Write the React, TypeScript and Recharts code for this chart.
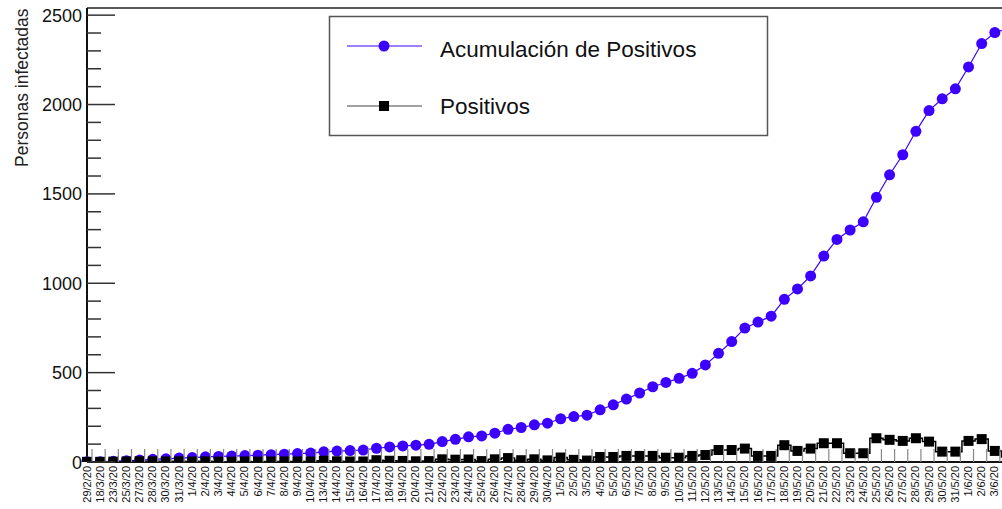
import React from 'react';
import { ComposedChart, Line, XAxis, YAxis, ReferenceLine } from 'recharts';

const fechas = [
  '29/2/20', '18/3/20', '23/3/20', '25/3/20', '27/3/20', '28/3/20', '30/3/20', '31/3/20',
  '1/4/20', '2/4/20', '3/4/20', '4/4/20', '5/4/20', '6/4/20', '7/4/20', '8/4/20', '9/4/20',
  '10/4/20', '13/4/20', '14/4/20', '15/4/20', '16/4/20', '17/4/20', '18/4/20', '19/4/20',
  '20/4/20', '21/4/20', '22/4/20', '23/4/20', '24/4/20', '25/4/20', '26/4/20', '27/4/20',
  '28/4/20', '29/4/20', '30/4/20', '1/5/20', '2/5/20', '3/5/20', '4/5/20', '5/5/20', '6/5/20',
  '7/5/20', '8/5/20', '9/5/20', '10/5/20', '11/5/20', '12/5/20', '13/5/20', '14/5/20',
  '15/5/20', '16/5/20', '17/5/20', '18/5/20', '19/5/20', '20/5/20', '21/5/20', '22/5/20',
  '23/5/20', '24/5/20', '25/5/20', '26/5/20', '27/5/20', '28/5/20', '29/5/20', '30/5/20',
  '31/5/20', '1/6/20', '2/6/20', '3/6/20', '4/6/20',
];

const acumulados = [
  1, 2, 4, 7, 11, 15, 18, 22, 25, 29, 31, 33, 36, 38, 41, 44, 47, 50, 57, 61, 64, 67, 77, 84,
  90, 94, 99, 114, 127, 141, 146, 161, 183, 193, 208, 217, 242, 254, 262, 292, 320, 352, 386,
  421, 445, 468, 496, 543, 608, 674, 749, 783, 816, 910, 968, 1041, 1152, 1245, 1298, 1344,
  1481, 1607, 1719, 1850, 1966, 2032, 2088, 2210, 2341, 2403, 2425,
];

const positivos = [
  1, 1, 2, 3, 4, 4, 3, 4, 3, 4, 2, 2, 3, 2, 3, 3, 3, 3, 7, 4, 3, 3, 10, 7, 6, 4, 5, 15, 13,
  14, 5, 15, 22, 10, 15, 9, 25, 12, 8, 28, 28, 34, 34, 34, 24, 24, 34, 39, 67, 67, 75, 34, 34,
  94, 62, 75, 105, 105, 49, 49, 133, 124, 118, 133, 114, 58, 58, 118, 128, 62, 28,
];

const yTicks = Array.from({ length: 26 }, (_, i) => i * 100);

const data = fechas.map((fecha, i) => ({
  fecha,
  acumulados: acumulados[i],
  positivos: positivos[i],
}));

const AZUL = '#3c00ff';
const FONT = '"Liberation Sans", Arial, Helvetica, sans-serif';
const AXIS_X = 87;
const BASE_Y = 462;

const YTick = (props: any) => {
  const { y, payload } = props;
  const major = payload.value % 500 === 0;
  return (
    <g>
      <line x1={AXIS_X} x2={major ? AXIS_X + 28 : AXIS_X + 14} y1={y} y2={y} stroke="#333" strokeWidth={1.5} />
      {major && (
        <text x={82} y={y} dy={6.5} textAnchor="end" fontSize={18} fontFamily={FONT} fill="#111">
          {payload.value}
        </text>
      )}
    </g>
  );
};

const XTick = (props: any) => {
  const { x, payload } = props;
  return (
    <g>
      <line x1={x + 5} x2={x + 5} y1={BASE_Y} y2={BASE_Y - 13} stroke="#888" strokeWidth={1.2} />
      <text
        transform={`translate(${x + 3.5},${BASE_Y + 4}) rotate(-90)`}
        textAnchor="end"
        fontSize={11}
        fontFamily={FONT}
        fill="#111"
      >
        {payload.value}
      </text>
    </g>
  );
};

const SquareDot = (props: any) => {
  const { cx, cy, index } = props;
  if (cx == null || cy == null) return null;
  return <rect key={`sq-${index}`} x={cx - 5} y={cy - 5} width={10} height={10} fill="#000" />;
};

const App: React.FC = () => {
  return (
    <div
      style={{
        position: 'fixed',
        left: 0,
        top: 0,
        width: 1002,
        height: 509,
        overflow: 'hidden',
        background: '#fff',
        fontFamily: FONT,
      }}
    >
      <ComposedChart width={1012} height={509} data={data} margin={{ top: 8, right: 4, bottom: 0, left: 0 }}>
        <XAxis
          dataKey="fecha"
          interval={0}
          height={47}
          tickLine={false}
          axisLine={{ stroke: '#111', strokeWidth: 2 }}
          tick={<XTick />}
        />
        <YAxis
          width={AXIS_X}
          domain={[0, 2540]}
          ticks={yTicks}
          interval={0}
          allowDataOverflow
          tickLine={false}
          axisLine={{ stroke: '#111', strokeWidth: 2 }}
          tick={<YTick />}
        />
        <ReferenceLine y={2540} stroke="#222" strokeWidth={1.5} />
        <Line
          type="linear"
          dataKey="acumulados"
          stroke={AZUL}
          strokeWidth={1.2}
          dot={{ r: 5.5, fill: AZUL, stroke: AZUL, strokeWidth: 0 }}
          isAnimationActive={false}
        />
        <Line
          type="step"
          dataKey="positivos"
          stroke="#000"
          strokeWidth={1.5}
          dot={SquareDot}
          isAnimationActive={false}
        />
      </ComposedChart>

      <div
        style={{
          position: 'absolute',
          left: 22,
          top: 8,
          height: 162,
          writingMode: 'vertical-rl',
          transform: 'rotate(180deg)',
          fontSize: 17.5,
          color: '#222',
          textAlign: 'right',
          whiteSpace: 'nowrap',
          lineHeight: '18px',
          width: 18,
          marginLeft: -9,
        }}
      >
        Personas infectadas
      </div>

      <svg style={{ position: 'absolute', left: 0, top: 0, pointerEvents: 'none' }} width={1002} height={509}>
        <rect x={329.5} y={16.5} width={438} height={119} fill="#fff" stroke="#555" strokeWidth={1.5} />
        <line x1={347} x2={422} y1={46} y2={46} stroke={AZUL} strokeWidth={1.2} />
        <circle cx={384} cy={46} r={5.5} fill={AZUL} />
        <text x={440} y={56.5} fontSize={22.5} fontFamily={FONT} fill="#111">
          Acumulación de Positivos
        </text>
        <line x1={347} x2={422} y1={106} y2={106} stroke="#444" strokeWidth={1.2} />
        <rect x={379} y={101} width={10} height={10} fill="#000" />
        <text x={440} y={113.5} fontSize={22.5} fontFamily={FONT} fill="#111">
          Positivos
        </text>
      </svg>
    </div>
  );
};

export default App;
